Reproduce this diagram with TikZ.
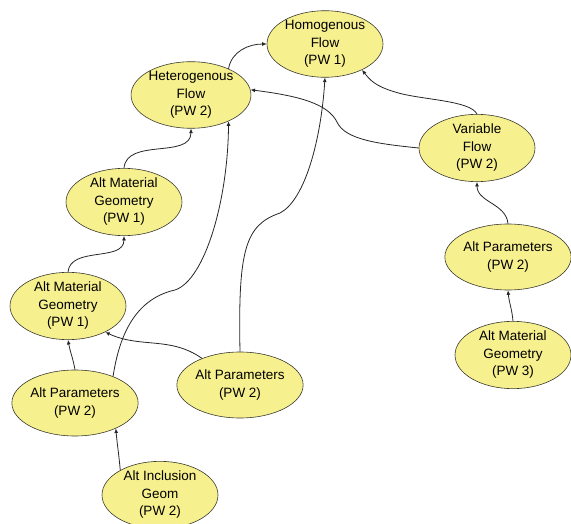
\documentclass[tikz,border=0pt]{standalone}
\usepackage{fontspec}
\setmainfont{Liberation Sans}
\usepackage{tikz}
\usetikzlibrary{arrows.meta,shapes.geometric}
\definecolor{bubblefill}{HTML}{F7F08E}
\definecolor{bubbleline}{HTML}{3A3A30}

\begin{document}
\begin{tikzpicture}[x=1pt,y=1pt,
 every node/.style={font=\fontsize{13.5}{17.5}\selectfont,align=center},
 bubble/.style={ellipse,draw=bubbleline,line width=.6pt,fill=bubblefill,minimum width=116pt,minimum height=66pt,inner sep=0pt},
 link/.style={-{Latex[length=4.5pt,width=4pt]},line width=.8pt,draw=black!85}]

\useasboundingbox (0,0) rectangle (571,-524);

\node[bubble] (homog) at (325,-44) {Homogenous\\Flow\\(PW 1)};
\node[bubble] (hetero) at (191,-95) {Heterogenous\\Flow\\(PW 2)};
\node[bubble] (varflow) at (477,-148) {Variable\\Flow\\(PW 2)};
\node[bubble] (amgtop) at (124,-202) {Alt Material\\Geometry\\(PW 1)};
\node[bubble] (apright) at (508,-257) {Alt Parameters\\(PW 2)};
\node[bubble] (amgleft) at (68,-306) {Alt Material\\Geometry\\(PW 1)};
\node[bubble] (amgright) at (513,-355) {Alt Material\\Geometry\\(PW 3)};
\node[bubble] (apmid) at (240,-385) {Alt Parameters\\(PW 2)};
\node[bubble] (apleft) at (75,-403) {Alt Parameters\\(PW 2)};
\node[bubble] (incl) at (160,-495) {Alt Inclusion\\Geom\\(PW 2)};

\draw[link] (hetero.35) to[out=80,in=180] (homog.west);
\draw[link] (varflow.north) .. controls (470,-100) and (420,-100) .. (395,-92) .. controls (375,-86) and (370,-80) .. (homog.-35);
\draw[link] (varflow.west) .. controls (380,-144) and (345,-140) .. (337,-122) .. controls (328,-104) and (300,-96) .. (hetero.5);
\draw[link] (amgtop.north) to[out=85,in=-90] (hetero.south);
\draw[link] (apmid.north) .. controls (238,-250) and (245,-225) .. (280,-213) .. controls (305,-200) and (321,-140) .. (homog.south);
\draw[link] (apleft.35) .. controls (118,-345) and (130,-300) .. (175,-290) .. controls (205,-280) and (228,-200) .. (hetero.-35);
\draw[link] (apmid.145) to[out=145,in=-25] (amgleft.-35);
\draw[link] (apleft.north) to[out=100,in=-80] (amgleft.south);
\draw[link] (incl.148) to[out=95,in=-85] (apleft.-32);
\draw[link] (amgleft.north) to[out=85,in=-90] (amgtop.south);
\draw[link] (apright.north) to[out=95,in=-90] (varflow.south);
\draw[link] (amgright.north) to[out=95,in=-85] (apright.south);
\end{tikzpicture}
\end{document}
